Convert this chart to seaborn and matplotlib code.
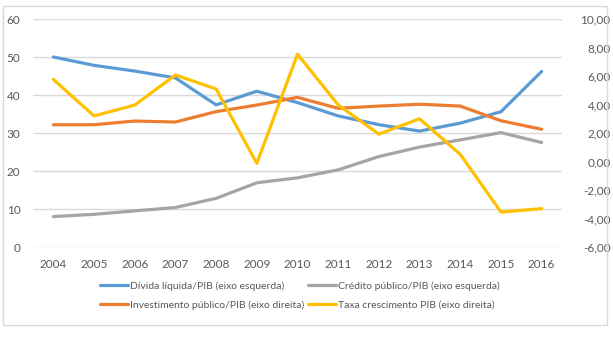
import matplotlib
matplotlib.use("Agg")
import matplotlib.pyplot as plt
from matplotlib.patches import Rectangle
from matplotlib.lines import Line2D
import numpy as np
import pandas as pd
import seaborn as sns

years = ["2004", "2005", "2006", "2007", "2008", "2009", "2010",
         "2011", "2012", "2013", "2014", "2015", "2016"]
divida_liquida = [50.0, 47.8, 46.3, 44.5, 37.4, 41.0, 38.0,
                  34.5, 32.2, 30.5, 32.6, 35.6, 46.2]
credito_publico = [8.0, 8.6, 9.5, 10.4, 12.8, 16.9, 18.2,
                   20.3, 23.8, 26.3, 28.2, 30.1, 27.5]
investimento_publico = [2.58, 2.58, 2.84, 2.77, 3.50, 3.96, 4.50,
                        3.73, 3.89, 4.02, 3.89, 2.86, 2.26]
taxa_crescimento = [5.76, 3.20, 3.96, 6.07, 5.09, -0.13, 7.53,
                    3.97, 1.92, 3.00, 0.50, -3.55, -3.31]

labels = ["Dívida líquida/PIB (eixo esquerda)",
          "Crédito público/PIB (eixo esquerda)",
          "Investimento público/PIB (eixo direita)",
          "Taxa crescimento PIB (eixo direita)"]
colors = ["#5B9BD5", "#A5A5A5", "#ED7D31", "#FFC000"]

sns.set_theme(style="white")
plt.rcParams["font.family"] = ["Lato", "DejaVu Sans"]
text_color = "#595959"
fs = 8.5
legend_fs = 7.5

pos = np.arange(len(years))
left_df = pd.DataFrame({"pos": pos, "divida": divida_liquida, "credito": credito_publico})
right_df = pd.DataFrame({"pos": pos, "invest": investimento_publico, "taxa": taxa_crescimento})

fig = plt.figure(figsize=(6.13, 3.37), dpi=100)
ax = fig.add_axes([33 / 613, 1 - 247 / 337, (562 - 33) / 613, (247 - 19) / 337])
ax2 = ax.twinx()

lw = 2.3
sns.lineplot(data=left_df, x="pos", y="divida", ax=ax, color=colors[0], lw=lw)
sns.lineplot(data=left_df, x="pos", y="credito", ax=ax, color=colors[1], lw=lw)
sns.lineplot(data=right_df, x="pos", y="invest", ax=ax2, color=colors[2], lw=lw)
sns.lineplot(data=right_df, x="pos", y="taxa", ax=ax2, color=colors[3], lw=lw)

ax.set_xlim(-0.5, len(years) - 0.5)
ax.set_ylim(0, 60)
ax2.set_ylim(-6, 10)
ax.set_xticks(pos)
ax.set_xticklabels(years)
ax.set_yticks(np.arange(0, 61, 10))
rticks = np.arange(-6, 10.01, 2)
ax2.set_yticks(rticks)
ax2.set_yticklabels([f"{v:.2f}".replace(".", ",") for v in rticks])

for a in (ax, ax2):
    a.set_xlabel("")
    a.set_ylabel("")
    for s in a.spines.values():
        s.set_visible(False)
ax.yaxis.grid(True, color="#d9d9d9", lw=1)
ax.xaxis.grid(False)
ax2.grid(False)
ax.tick_params(axis="both", length=0, labelsize=fs, colors=text_color)
ax.tick_params(axis="y", pad=9)
ax.tick_params(axis="x", pad=9)
ax2.tick_params(axis="y", length=0, labelsize=fs, colors=text_color, pad=35)
for t in ax2.get_yticklabels():
    t.set_horizontalalignment("right")

handles = [Line2D([], [], color=c, lw=lw) for c in colors]
order = [0, 2, 1, 3]
fig.legend([handles[i] for i in order], [labels[i] for i in order],
           loc="center", bbox_to_anchor=(300 / 613, 1 - 295.5 / 337), ncol=2,
           frameon=False, fontsize=legend_fs, handlelength=2.7, handletextpad=0.15,
           columnspacing=0.4, labelspacing=0.9, labelcolor=text_color)

fig.patches.append(Rectangle((3 / 613, 1 - 325 / 337), 604 / 613, 319 / 337,
                             transform=fig.transFigure, fill=False,
                             edgecolor="#d9d9d9", lw=1))

fig.savefig("out.png", dpi=100, facecolor="white")
